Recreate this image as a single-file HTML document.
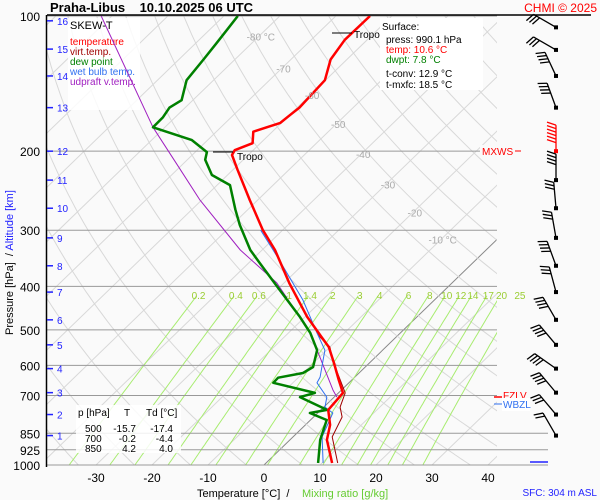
<!DOCTYPE html>
<html><head><meta charset="utf-8"><style>
body{margin:0;background:#fff;}
svg{display:block;font-family:"Liberation Sans",sans-serif;}
</style></head><body>
<svg id="c" width="600" height="500" viewBox="0 0 600 500">
<rect x="0" y="0" width="600" height="500" fill="#fafafa"/>
<defs>
<clipPath id="pc"><rect x="47" y="16" width="450" height="449"/></clipPath>
<clipPath id="pc2"><rect x="47" y="16" width="501" height="449"/></clipPath>
</defs>
<g id="grid" clip-path="url(#pc)"></g>
<g id="plines"></g>
<g id="static">
<rect x="68" y="18" width="72" height="92" fill="#fff" opacity="0.85"/>
<text x="70" y="29" font-size="11">SKEW-T</text>
<text x="70" y="45" font-size="10" fill="#f00">temperature</text>
<text x="70" y="55" font-size="10" fill="#a00000">virt.temp.</text>
<text x="70" y="65" font-size="10" fill="#008000">dew point</text>
<text x="70" y="75" font-size="10" fill="#3070f0">wet bulb temp.</text>
<text x="70" y="85" font-size="10" fill="#a020c0">udpraft v.temp.</text>
<rect x="380" y="18" width="103" height="72" fill="#fff"/>
<g font-size="10">
<text x="382" y="30">Surface:</text>
<text x="386" y="43">press: 990.1 hPa</text>
<text x="386" y="53" fill="#f00">temp: 10.6 °C</text>
<text x="386" y="63" fill="#008000">dwpt: 7.8 °C</text>
<text x="386" y="77">t-conv: 12.9 °C</text>
<text x="386" y="88">t-mxfc: 18.5 °C</text>
</g>
<rect x="76" y="405" width="105" height="48" fill="#fff" opacity="0.85"/>
<g font-size="10">
<text x="78" y="416">p [hPa]</text><text x="127" y="416" text-anchor="middle">T</text><text x="146" y="416">Td [°C]</text>
<text x="85" y="432">500</text><text x="136" y="432" text-anchor="end">-15.7</text><text x="173" y="432" text-anchor="end">-17.4</text>
<text x="85" y="442">700</text><text x="136" y="442" text-anchor="end">-0.2</text><text x="173" y="442" text-anchor="end">-4.4</text>
<text x="85" y="452">850</text><text x="136" y="452" text-anchor="end">4.2</text><text x="173" y="452" text-anchor="end">4.0</text>
</g>
</g>
<g id="series" clip-path="url(#pc2)"></g>
<g id="labels"></g>
<g id="static2">
<text x="50" y="12" font-size="13" font-weight="bold">Praha-Libus&#160;&#160;&#160; 10.10.2025 06 UTC</text>
<text x="597" y="12" font-size="12" fill="#f00" text-anchor="end">CHMI © 2025</text>
<line x1="213" y1="152" x2="233" y2="152" stroke="#000"/>
<text x="237" y="160" font-size="10">Tropo</text>
<line x1="332" y1="33" x2="352" y2="33" stroke="#000"/>
<text x="354" y="38" font-size="10">Tropo</text>
<rect x="480" y="145" width="36" height="12" fill="#fafafa"/>
<text x="482" y="155" font-size="10" fill="#f00">MXWS</text>
<line x1="515" y1="151" x2="521" y2="151" stroke="#f00"/>
<text x="503" y="399" font-size="10" fill="#f00">FZLV</text>
<line x1="494" y1="397" x2="502" y2="397" stroke="#f00" stroke-width="1.5"/>
<rect x="502" y="398" width="28" height="13" fill="#fff"/>
<text x="503" y="408" font-size="10" fill="#3070f0">WBZL</text>
<line x1="494" y1="404" x2="502" y2="404" stroke="#3070f0"/>
<line x1="530" y1="462" x2="548" y2="462" stroke="#22f" stroke-width="1.5"/>
<text x="197" y="497" font-size="11">Temperature [°C]&#160; /</text>
<text x="302" y="497" font-size="11" fill="#66cc33">Mixing ratio [g/kg]</text>
<text x="597" y="496" font-size="10" fill="#22f" text-anchor="end">SFC: 304 m ASL</text>
<text transform="translate(13,335) rotate(-90)" font-size="11">Pressure [hPa]&#160; / <tspan fill="#22f">Altitude [km]</tspan></text>
</g>
</svg>
<script>
const NS="http://www.w3.org/2000/svg";
// ---- data ----
const pressureLevels=[100,200,300,400,500,600,700,850,925,1000];
const tempTicks=[-30,-20,-10,0,10,20,30,40];
const isoLabels=[-80,-70,-60,-50,-40,-30,-20,-10];
const isoLabelP=[111,131,150,174,203,237,274,315];
const mixRatios=[0.2,0.4,0.6,1,1.4,2,3,4,6,8,10,12,14,17,20,25];
const kmLabels=[16,15,14,13,12,11,10,9,8,7,6,5,4,3,2,1];
const kmPressure=[102.5,118.5,136,160,200,232,268,312,360,412,475,540,610,690,772,860];
const tempP=[990,879,814,754,716,691,647,593,546,519,468,393,332,300,257,220,204,199,192,181,177,173,166,160,139,125,113,100];
const tempT=[11.8,6.6,4.4,1.3,1.0,0.8,-2.3,-6.3,-10.2,-13.3,-19.6,-29.1,-37.7,-43.5,-51.4,-59.2,-62.9,-63.3,-61.4,-63.4,-61.8,-60.2,-59.9,-59.6,-60.1,-62.9,-64,-63.9];
const virtP=[990,866,782,743,691,584,546,519,468,393,332,300];
const virtT=[12.8,7.0,5.1,2.9,1.2,-7.1,-10,-13.6,-19.5,-29,-37.6,-43.4];
const dewP=[990,879,794,766,754,706,691,656,639,624,605,555,508,468,408,355,332,292,270,238,226,209,201,189,177,168,160,154,139,125,115,107,100];
const dewT=[9.3,5.4,2.9,-1.4,1.1,-6.1,-4.2,-13.5,-13.6,-10,-9.3,-11.7,-16.1,-20.9,-29.4,-38,-42.1,-48.6,-52.2,-57.7,-62.8,-66.8,-67.9,-72.8,-82.1,-82.2,-82.8,-82,-84.8,-85.6,-86.3,-86.9,-87.5];
const wetP=[990,866,766,743,706,656,637,584,555,508,429,344,300];
const wetT=[10.2,5.2,2.7,0.2,-1.3,-5.7,-6.2,-8.8,-10.3,-14.9,-23.5,-36,-43.9];
const parcelP=[706,681,508,393,332,257,220,177,100];
const parcelT=[0.5,-1.5,-16.1,-31.3,-43.9,-60.3,-69.4,-82.1,-111.9];
const windP=[106,119,136,160,200,232,268,312,360,412,475,540,610,690,772,860];
const windSpd=[30,30,40,40,60,45,35,35,40,30,40,40,45,40,30,25];
const windDir=[300,300,335,340,0,0,355,350,340,345,330,320,305,320,320,330];

// ---- axes ----
function yP(p){return 16+449*Math.log10(p/100);}
function xT(T,p){return 264+5.6*T+(465-yP(p))*1.033;}
function el(tag,attrs,parent,text){const e=document.createElementNS(NS,tag);for(const k in attrs)e.setAttribute(k,attrs[k]);if(text!==undefined)e.textContent=text;parent.appendChild(e);return e;}
const grid=document.getElementById('grid'),pl=document.getElementById('plines'),ser=document.getElementById('series'),lab=document.getElementById('labels');

for(let T=-150;T<=50;T+=10){
  const l=el('line',{x1:xT(T,1000),y1:yP(1000),x2:xT(T,100),y2:yP(100),stroke:T===0?'#888':'#d8d8d8','stroke-width':1},grid);
  
  
}
for(let th=240;th<=480;th+=10){
  let d='';
  for(let p=1050;p>=100;p-=10){const T=th*Math.pow(p/1000,0.286)-273.15;d+=(d?'L':'M')+xT(T,p).toFixed(1)+','+yP(p).toFixed(1);}
  const a=el('path',{d:d,fill:'none',stroke:'#d8d8d8','stroke-width':1},grid);
  
  
}
function tdw(w,p){const e=w*p/(622+w);const l=Math.log(e/6.112);return 243.5*l/(17.67-l);}
mixRatios.forEach(w=>{
  let d='';
  for(let p=1000;p>=420;p-=10){d+=(d?'L':'M')+xT(tdw(w,p),p).toFixed(1)+','+yP(p).toFixed(1);}
  const m=el('path',{d:d,fill:'none',stroke:'#a8ec70','stroke-width':1},grid);
  
  
  const t=el('text',{x:xT(tdw(w,415),415),y:299,'font-size':10,fill:'#9acd32','text-anchor':'middle'},lab,String(w));
  
  
});
isoLabels.forEach((T,i)=>{
  const p=isoLabelP[i];
  const t=el('text',{x:xT(T,p)+2,y:yP(p)+4,'font-size':10,fill:'#aaa','text-anchor':'middle'},lab,T+((T===-80||T===-10)?' °C':''));
  
  
});
pressureLevels.forEach(p=>{
  const y=yP(p);
  const l=el('line',{x1:47,y1:y,x2:p>=850?548:497,y2:y,stroke:'#999','stroke-width':1},pl);
  
  
  const t=el('text',{x:40,y:y+5,'font-size':12,fill:'#000','text-anchor':'end'},lab,String(p));
  
  
});
el('line',{x1:47,y1:15,x2:591,y2:15,stroke:'#000','stroke-width':1.5},pl);
el('line',{x1:46.5,y1:15,x2:46.5,y2:467,stroke:'#000','stroke-width':1.5},pl);
tempTicks.forEach(T=>{
  const t=el('text',{x:xT(T,1000),y:482,'font-size':12,fill:'#000','text-anchor':'middle'},lab,String(T));
  
  
});
kmLabels.forEach((k,i)=>{
  const y=yP(kmPressure[i]);
  el('line',{x1:47,y1:y,x2:53,y2:y,stroke:'#22f','stroke-width':1.5},lab);
  const t=el('text',{x:57,y:y+4,'font-size':10,fill:'#22f'},lab,String(k));
  
  
});
function line(P,T,color,w,name){
  const d=P.map((p,i)=>(i?'L':'M')+xT(T[i],p).toFixed(1)+','+yP(p).toFixed(1)).join('');
  const e=el('path',{d:d,fill:'none',stroke:color,'stroke-width':w,'stroke-linejoin':'round'},ser);
  
  
}
line(parcelP,parcelT,'#a020c0',1,'updraft-virtual-temp-line');
line(virtP,virtT,'#a00000',1,'virtual-temp-line');
line(wetP,wetT,'#3070f0',1,'wet-bulb-line');
line(dewP,dewT,'#008000',2.5,'dew-point-line');
line(tempP,tempT,'#ff0000',2.5,'temperature-line');
windP.forEach((p,i)=>{
  const y=yP(p),x=556;
  const g=el('g',{},lab);
  
  
  const col=(p>180&&p<205)?'#f00':'#000';
  const a=windDir[i]*Math.PI/180, L=26;
  const dx=Math.sin(a), dy=-Math.cos(a);
  const ex=x+dx*L, ey=y+dy*L;
  el('line',{x1:x,y1:y,x2:ex,y2:ey,stroke:col,'stroke-width':1.3},g);
  el('rect',{x:x-2,y:y-2,width:4,height:4,fill:col},g);
  let s=windSpd[i],k=0;
  const px=-dy, py=dx;
  while(s>=10&&k<6){const bx=ex-dx*k*3.5, by=ey-dy*k*3.5;el('line',{x1:bx,y1:by,x2:bx-px*9+dx*3,y2:by-py*9+dy*3,stroke:col,'stroke-width':1.3},g);s-=10;k++;}
});
</script>
</body></html>
